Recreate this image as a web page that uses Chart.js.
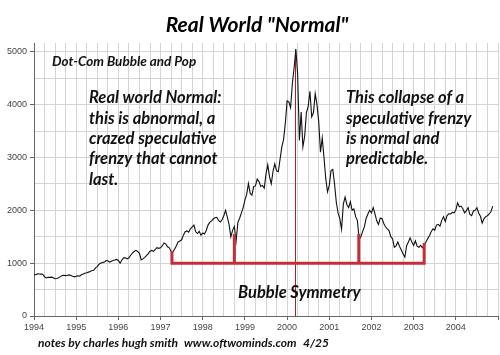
<!DOCTYPE html>
<html><head><meta charset="utf-8">
<script src="https://cdn.jsdelivr.net/npm/chart.js@4/dist/chart.umd.min.js"></script>
<style>html,body{margin:0;padding:0;background:#fff}#wrap{width:500px;height:355px}</style>
</head><body><div id="wrap"><canvas id="c" width="500" height="355"></canvas></div>
<script>
const titleText = 'Real World "Normal"';
const subtitleText = 'Dot-Com Bubble and Pop';
const leftNote = ['Real world Normal:', 'this is abnormal, a', 'crazed speculative', 'frenzy that cannot', 'last.'];
const rightNote = ['This collapse of a', 'speculative frenzy', 'is normal and', 'predictable.'];
const bracketLabel = 'Bubble Symmetry';
const footerParts = ['notes by charles hugh smith', 'www.oftwominds.com', '4/25'];

const xStartYear = 1994;
const xEndYear = 2005;
const gridStepsPerYear = 4;
const yGridValues = [0, 500, 1000, 1500, 2000, 2500, 3000, 3500, 4000, 4500, 5000];
const yLabelStep = 1000;

const firstYear = 1994;
const pointsPerYear = 24;
const nasdaq = [780,
  780, 800, 795, 793, 790, 743, 720, 733, 730, 735, 725, 706, 710, 722, 745, 765, 770, 764, 770, 777, 765, 750, 740, 752,
  760, 755, 780, 794, 810, 817, 830, 843, 860, 865, 910, 933, 980, 1001, 1010, 1020, 1050, 1044, 1020, 1036, 1050, 1059, 1070, 1052,
  1000, 1060, 1100, 1100, 1080, 1101, 1150, 1191, 1220, 1243, 1220, 1185, 1060, 1081, 1110, 1141, 1180, 1227, 1240, 1222, 1260, 1293, 1280, 1291,
  1330, 1380, 1360, 1309, 1290, 1222, 1210, 1261, 1330, 1400, 1420, 1442, 1530, 1594, 1610, 1587, 1650, 1686, 1720, 1593, 1560, 1601, 1530, 1570,
  1550, 1619, 1720, 1771, 1800, 1835, 1860, 1868, 1810, 1779, 1820, 1895, 2000, 1872, 1730, 1499, 1620, 1694, 1420, 1771, 1850, 1950, 2050, 2193,
  2300, 2505, 2320, 2288, 2450, 2461, 2590, 2543, 2450, 2471, 2420, 2686, 2860, 2638, 2500, 2739, 2880, 2746, 2730, 2966, 3200, 3336, 3650, 4069,
  4050, 3940, 4400, 4697, 5048, 4573, 3320, 3861, 3200, 3401, 3850, 3966, 4250, 3767, 3850, 4206, 4000, 3673, 3100, 3370, 3000, 2598, 2350, 2471,
  2750, 2773, 2500, 2152, 1950, 1840, 1640, 2116, 2250, 2110, 2050, 2161, 2000, 2027, 1880, 1805, 1450, 1499, 1600, 1690, 1850, 1931, 2000, 1950,
  2050, 1934, 1800, 1731, 1850, 1845, 1750, 1688, 1650, 1616, 1500, 1463, 1300, 1328, 1400, 1315, 1250, 1172, 1114, 1330, 1400, 1479, 1400, 1336,
  1420, 1321, 1300, 1338, 1290, 1341, 1400, 1464, 1520, 1596, 1650, 1623, 1720, 1735, 1700, 1810, 1880, 1787, 1900, 1932, 1930, 1960, 1950, 2003,
  2140, 2066, 2080, 2030, 1950, 1994, 2050, 1920, 1900, 1987, 2000, 2048, 1950, 1887, 1760, 1838, 1880, 1897, 1930, 1975, 2080
];

// Red "symmetry" bracket
const bracketX = [1997.27, 1997.27, 2003.25, 2003.25];
const bracketY = [1230, 1000, 1000, 1380];
const innerLegX = [1998.75, 2001.7];
const innerLegTop = [1550, 1550];
const bracketBase = 1000;
const peakX = 2000.2;
const peakTop = 5048;

const lineData = nasdaq.map((v, i) => ({x: firstYear + i / pointsPerYear, y: v}));
const bracketData = bracketX.map((x, i) => ({x: x, y: bracketY[i]}));
const legDatasets = innerLegX.map((x, i) => ({
  type: 'line', data: [{x: x, y: bracketBase}, {x: x, y: innerLegTop[i]}],
  borderColor: '#c62d37', borderWidth: 3, pointRadius: 0, order: 0
}));

const textPlugin = {
  id: 'texts',
  afterDraw(chart) {
    const ctx = chart.ctx;
    ctx.save();
    ctx.fillStyle = '#000';
    ctx.textBaseline = 'alphabetic';
    ctx.textAlign = 'center';
    ctx.font = 'italic bold 21px Lato, sans-serif';
    ctx.fillText(titleText, 257, 32);
    ctx.textBaseline = 'middle';
    ctx.textAlign = 'left';
    ctx.fillStyle = '#111';
    ctx.font = 'italic bold 13.5px Lato, sans-serif';
    ctx.fillText(subtitleText, 52, 62);
    ctx.font = 'italic bold 16.5px Lato, sans-serif';
    const ly = [98, 119, 139, 159, 180];
    leftNote.forEach((t, i) => ctx.fillText(t, 89, ly[i]));
    rightNote.forEach((t, i) => ctx.fillText(t, 346, ly[i]));
    ctx.fillText(bracketLabel, 238, 293);
    ctx.font = 'italic bold 12px Lato, sans-serif';
    const fx = [38, 184, 303];
    footerParts.forEach((t, i) => ctx.fillText(t, fx[i], 343));
    ctx.restore();
  }
};

new Chart(document.getElementById('c'), {
  type: 'line',
  data: {
    datasets: [
      {data: bracketData, borderColor: '#c62d37', borderWidth: 3, pointRadius: 0, order: 0, borderJoinStyle: 'miter'},
      ...legDatasets,
      {data: [{x: peakX, y: 0}, {x: peakX, y: peakTop}], borderColor: '#9b2424', borderWidth: 1, pointRadius: 0, order: 2},
      {data: lineData, borderColor: '#111', borderWidth: 1.1, pointRadius: 0, tension: 0, order: 1}
    ]
  },
  options: {
    responsive: false,
    animation: false,
    events: [],
    layout: {padding: {top: 43, right: 1, bottom: 19, left: 0}},
    plugins: {legend: {display: false}, tooltip: {enabled: false}},
    scales: {
      x: {
        type: 'linear', min: xStartYear, max: xEndYear,
        afterBuildTicks(scale) {
          const t = [];
          for (let i = 0; i <= (xEndYear - xStartYear) * gridStepsPerYear; i++) t.push({value: xStartYear + i / gridStepsPerYear});
          scale.ticks = t;
        },
        afterFit(scale) { scale.height = 20; },
        ticks: {
          autoSkip: false, maxRotation: 0, padding: 2, color: '#444',
          font: {family: '"Liberation Sans", Arial, sans-serif', size: 9},
          callback: v => (Number.isInteger(v) && v < xEndYear) ? String(v) : ''
        },
        grid: {
          color: '#d4d4d4', tickLength: 4,
          tickColor: c => (c.tick && Number.isInteger(c.tick.value)) ? '#666' : 'rgba(0,0,0,0)'
        },
        border: {color: '#666', width: 1}
      },
      y: {
        min: 0, max: 5165,
        afterBuildTicks(scale) { scale.ticks = yGridValues.map(v => ({value: v})); },
        afterFit(scale) { scale.width = 34; },
        ticks: {
          padding: 3, color: '#444',
          font: {family: '"Liberation Sans", Arial, sans-serif', size: 9},
          callback: v => (v % yLabelStep === 0) ? String(v) : ''
        },
        grid: {
          color: '#d4d4d4', tickLength: 4,
          tickColor: c => (c.tick && c.tick.value % yLabelStep === 0) ? '#666' : 'rgba(0,0,0,0)'
        },
        border: {color: '#666', width: 1}
      }
    }
  },
  plugins: [textPlugin]
});
</script></body></html>
